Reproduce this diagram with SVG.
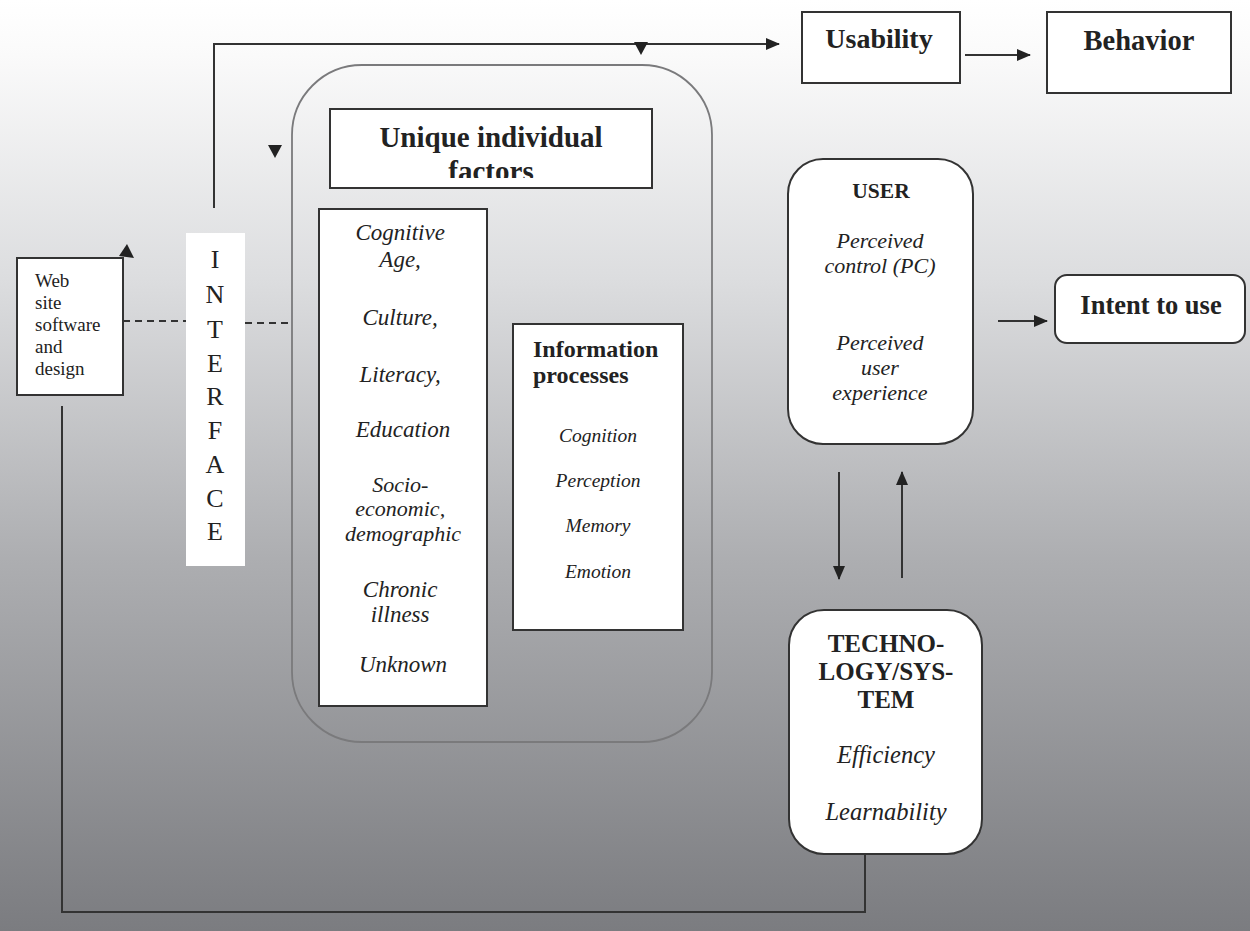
<svg xmlns="http://www.w3.org/2000/svg" width="1250" height="931" viewBox="0 0 1250 931">
<defs>
<linearGradient id="bg" x1="0" y1="0" x2="0" y2="1">
<stop offset="0" stop-color="#ffffff"/>
<stop offset="0.06" stop-color="#fafafa"/>
<stop offset="0.3" stop-color="#dcdddf"/>
<stop offset="0.6" stop-color="#adaeb1"/>
<stop offset="1" stop-color="#7b7c80"/>
</linearGradient>
<marker id="ah" markerWidth="14" markerHeight="12" refX="13" refY="6" orient="auto" markerUnits="userSpaceOnUse">
<path d="M0,0 L14,6 L0,12 Z" fill="#222"/>
</marker>
<clipPath id="clipU"><rect x="330" y="109" width="322" height="69"/></clipPath>
<style>
.box{fill:#fff;stroke:#333;stroke-width:2}
.ln{fill:none;stroke:#333;stroke-width:2}
.dash{fill:none;stroke:#333;stroke-width:2;stroke-dasharray:7,5}
.t{font-family:"Liberation Serif","Times New Roman",serif;fill:#222}
.b{font-weight:bold}
.i{font-style:italic}
.c{text-anchor:middle}
</style>
</defs>
<rect x="0" y="0" width="1250" height="931" fill="url(#bg)"/>

<g id="connectors">
<polyline class="ln" points="214,208 214,44 779,44" marker-end="url(#ah)"/>
<polygon points="634,42 648,42 641,55" fill="#222"/>
<polygon points="268,145 282,145 275,158" fill="#222"/>
<polygon points="119,256 127,244 134,258" fill="#222"/>
<line class="dash" x1="123" y1="321" x2="186" y2="321"/>
<line class="dash" x1="245" y1="323" x2="291" y2="323"/>
<line class="ln" x1="965" y1="55" x2="1030" y2="55" marker-end="url(#ah)"/>
<line class="ln" x1="998" y1="321" x2="1047" y2="321" marker-end="url(#ah)"/>
<line class="ln" x1="839" y1="472" x2="839" y2="579" marker-end="url(#ah)"/>
<line class="ln" x1="902" y1="578" x2="902" y2="472" marker-end="url(#ah)"/>
<polyline class="ln" points="865,854 865,912 62,912 62,406"/>
</g>

<g id="web">
<rect class="box" x="17" y="258" width="106" height="137"/>
<text class="t" x="35" font-size="19"><tspan y="287">Web</tspan><tspan x="35" y="309">site</tspan><tspan x="35" y="331">software</tspan><tspan x="35" y="353">and</tspan><tspan x="35" y="375">design</tspan></text>
</g>

<g id="interface">
<rect x="186" y="233" width="59" height="333" fill="#fff"/>
<text class="t c" x="215" font-size="26"><tspan x="215" y="268">I</tspan><tspan x="215" y="303">N</tspan><tspan x="215" y="338">T</tspan><tspan x="215" y="372">E</tspan><tspan x="215" y="405">R</tspan><tspan x="215" y="439">F</tspan><tspan x="215" y="473">A</tspan><tspan x="215" y="507">C</tspan><tspan x="215" y="540">E</tspan></text>
</g>

<g id="individual">
<rect x="292" y="65" width="420" height="677" rx="70" ry="70" fill="none" stroke="#7a7a7c" stroke-width="1.8"/>
</g>

<g id="unique">
<rect class="box" x="330" y="109" width="322" height="79"/>
<g clip-path="url(#clipU)">
<text class="t b c" x="491" font-size="29"><tspan x="491" y="147">Unique individual</tspan><tspan x="491" y="181">factors</tspan></text>
</g>
</g>

<g id="factors">
<rect class="box" x="319" y="209" width="168" height="497"/>
<text class="t i c" font-size="23">
<tspan x="403" y="240">Cognitive</tspan>
<tspan x="403" y="267">Age,</tspan>
<tspan x="403" y="325">Culture,</tspan>
<tspan x="403" y="382">Literacy,</tspan>
<tspan x="403" y="437">Education</tspan>
</text>
<text class="t i c" font-size="22">
<tspan x="403" y="492">Socio-</tspan>
<tspan x="403" y="516">economic,</tspan>
<tspan x="403" y="541">demographic</tspan>
</text>
<text class="t i c" font-size="23">
<tspan x="403" y="597">Chronic</tspan>
<tspan x="403" y="622">illness</tspan>
<tspan x="403" y="672">Unknown</tspan>
</text>
</g>

<g id="info">
<rect class="box" x="513" y="324" width="170" height="306"/>
<text class="t b" font-size="24"><tspan x="533" y="357">Information</tspan><tspan x="533" y="383">processes</tspan></text>
<text class="t i c" font-size="19.5"><tspan x="598" y="442">Cognition</tspan><tspan x="598" y="487">Perception</tspan><tspan x="598" y="532">Memory</tspan><tspan x="598" y="578">Emotion</tspan></text>
</g>

<g id="usability">
<rect class="box" x="802" y="12" width="158" height="71"/>
<text class="t b c" x="879" y="48" font-size="28">Usability</text>
</g>

<g id="behavior">
<rect class="box" x="1047" y="12" width="184" height="81"/>
<text class="t b c" x="1139" y="50" font-size="28.5">Behavior</text>
</g>

<g id="user">
<rect class="box" x="788" y="159" width="185" height="285" rx="35" ry="35"/>
<text class="t b c" x="881" y="198" font-size="21.5">USER</text>
<text class="t i c" font-size="22"><tspan x="880" y="248">Perceived</tspan><tspan x="880" y="273">control (PC)</tspan><tspan x="880" y="350">Perceived</tspan><tspan x="880" y="375">user</tspan><tspan x="880" y="400">experience</tspan></text>
</g>

<g id="intent">
<rect class="box" x="1055" y="275" width="190" height="68" rx="12" ry="12"/>
<text class="t b c" x="1151" y="314" font-size="26.5">Intent to use</text>
</g>

<g id="technology">
<rect class="box" x="789" y="610" width="193" height="244" rx="35" ry="35"/>
<text class="t b c" font-size="25"><tspan x="886" y="652">TECHNO-</tspan><tspan x="886" y="680">LOGY/SYS-</tspan><tspan x="886" y="708">TEM</tspan></text>
<text class="t i c" font-size="24.5"><tspan x="886" y="763">Efficiency</tspan><tspan x="886" y="820">Learnability</tspan></text>
</g>
</svg>
